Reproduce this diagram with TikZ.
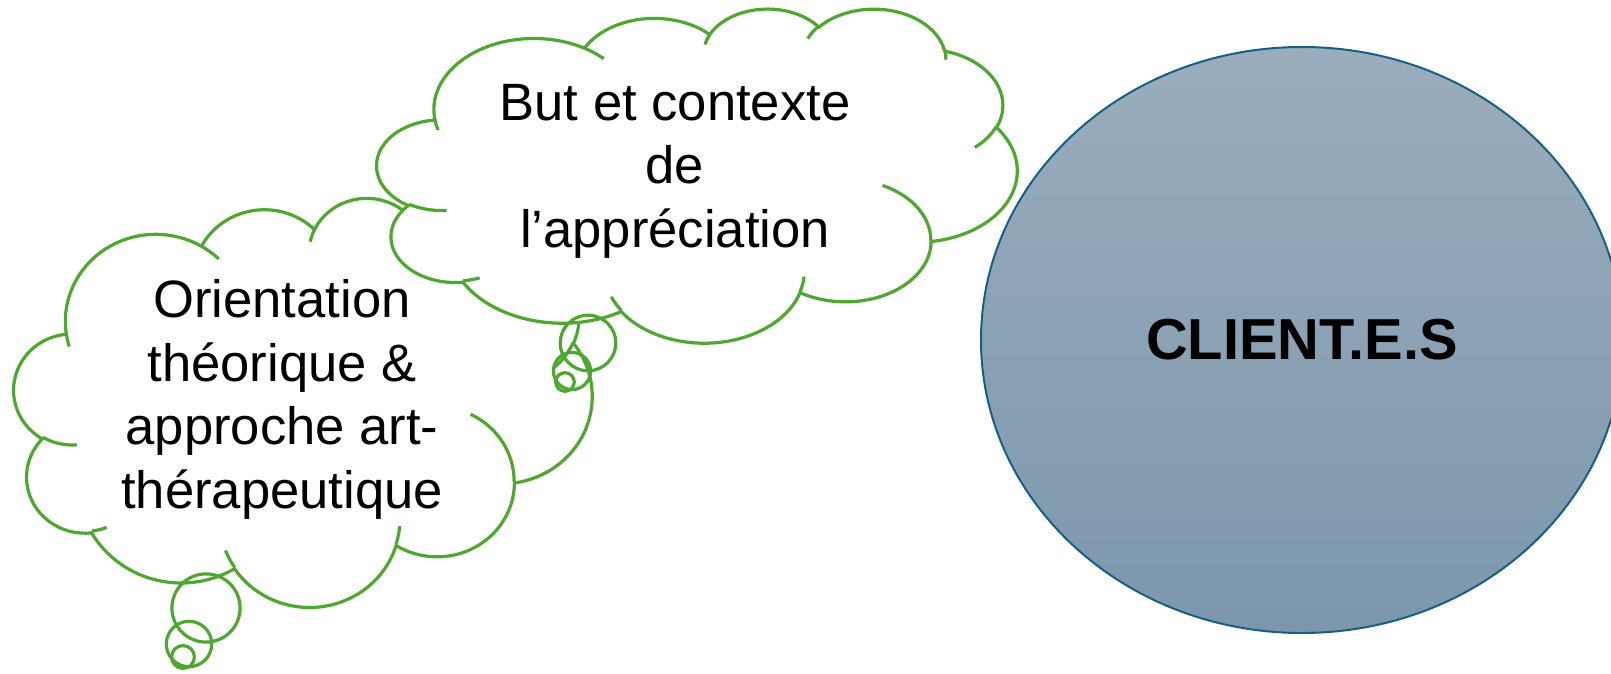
\documentclass[tikz,border=0pt]{standalone}
\usepackage{fontspec}
\setmainfont{Liberation Sans}
\usetikzlibrary{shapes.geometric}

\definecolor{cloudgreen}{HTML}{4EA72E}
\definecolor{rimblue}{HTML}{156082}
\definecolor{fillTop}{HTML}{9AADBC}
\definecolor{fillBot}{HTML}{7C97AD}

% Elliptical arc given by its "visual" start angle and sweep
% (angle of the ray from the centre), converted to TikZ's parametric angles.
\tikzset{
  vis/.code n args={4}{%
    \pgfmathsetmacro\visA{atan2((#1)*sin(#3),(#2)*cos(#3))}%
    \pgfmathsetmacro\visB{atan2((#1)*sin((#3)+(#4)),(#2)*cos((#3)+(#4)))}%
    \pgfmathsetmacro\visB{\visA+mod(\visB-\visA+720,360)}%
    \edef\visKeys{start angle=\visA, end angle=\visB}%
    \expandafter\tikzset\expandafter{\visKeys, x radius=#1, y radius=#2}%
  },
  cloudline/.style={draw=cloudgreen, line width=1.6pt},
  bubble/.style={draw=cloudgreen, line width=1.6pt},
  cloudtext/.style={align=center, anchor=base, inner sep=0pt,
    font=\fontsize{26.3}{31.75}\selectfont},
  clientshape/.style={ellipse, draw=rimblue, line width=1pt,
    top color=fillTop, bottom color=fillBot, inner sep=0pt,
    font=\bfseries\fontsize{28.9}{34}\selectfont},
}

% Cloud outline on a 432 x 432 grid (y pointing down)
\newcommand\cloudrim{(39.00,143.70)
  arc[vis={67.53}{91.90}{-190.4875}{123.7805}]
  arc[vis={53.33}{72.67}{-144.1024}{89.9452}]
  arc[vis={43.65}{59.45}{-145.8079}{99.7230}]
  arc[vis={48.57}{65.95}{-130.9861}{117.2417}]
  arc[vis={53.33}{72.73}{-78.7089}{109.0269}]
  arc[vis={67.75}{92.20}{-46.2673}{130.2690}]
  arc[vis={57.85}{78.67}{0.6250}{114.0333}]
  arc[vis={67.52}{92.15}{22.4516}{115.1726}]
  arc[vis={77.20}{105.43}{66.2426}{75.7110}]
  arc[vis={43.60}{59.18}{-274.9421}{146.7356}]
  arc[vis={43.45}{59.45}{-246.8285}{152.5189}]
  -- cycle}

% Short inner strokes where the puffs meet
\newcommand\cloudfolds{
  (46.93,261.77) arc[vis={43.45}{59.45}{86.7420}{26.4295}]
  (69.28,348.99) arc[vis={43.60}{59.18}{73.6105}{11.4475}]
  (164.78,390.90) arc[vis={67.52}{92.15}{137.6242}{14.0811}]
  (288.27,347.51) arc[vis={67.52}{92.15}{6.4533}{15.9984}]
  (341.29,229.54) arc[vis={57.85}{78.67}{-70.2924}{70.9174}]
  (417.98,153.54) arc[vis={53.33}{72.73}{30.3180}{27.7515}]
  (383.24,54.26) arc[vis={48.57}{65.95}{-13.7443}{14.8589}]
  (290.78,39.52) arc[vis={48.57}{65.95}{-149.1815}{18.1954}]
  (221.41,47.20) arc[vis={43.65}{59.45}{-163.4943}{17.6864}]
  (140.00,51.92) arc[vis={67.53}{91.90}{-66.7070}{12.3194}]
  (41.27,157.89) arc[vis={67.53}{91.90}{157.6544}{11.8582}]}

% #1 left, #2 top, #3 width, #4 height
\newcommand\thoughtcloud[4]{%
  \begin{scope}[shift={(#1,#2)}, xscale=#3/432, yscale=#4/432]
    \path[cloudline, fill=white] \cloudrim;
    \path[cloudline] \cloudfolds;
  \end{scope}}

\begin{document}
\begin{tikzpicture}[x=0.5pt, y=-0.5pt]
  \useasboundingbox (0,0) rectangle (1611,674);

  % client ellipse
  \node (clients) [clientshape, minimum width=321pt, minimum height=293pt]
    at (1302,340) {CLIENT.E.S};

  % left cloud
  \thoughtcloud{14}{197}{578}{409}
  % upper cloud
  \thoughtcloud{377}{8}{640}{334}

  % trailing bubbles of the left cloud
  \draw[bubble] (206,608) circle[radius=34.1];
  \draw[bubble] (189,644) circle[radius=22.7];
  \draw[bubble] (183,657) circle[radius=11.4];

  % trailing bubbles of the upper cloud
  \draw[bubble] (588,343) circle[radius=27.8];
  \draw[bubble] (572,371) circle[radius=18.6];
  \draw[bubble] (565,382) circle[radius=9.3];

  % texts, placed by the baseline of their last line
  \node (orient) [cloudtext] at (282,508)
    {Orientation\\théorique \&\\approche art-\\thérapeutique};
  \node (purpose) [cloudtext] at (675,247)
    {But et contexte\\de\\l’appréciation};
\end{tikzpicture}
\end{document}
